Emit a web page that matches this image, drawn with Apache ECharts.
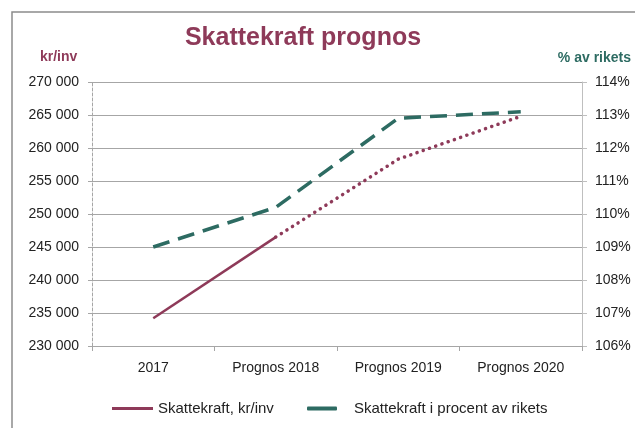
<!DOCTYPE html>
<html><head><meta charset="utf-8">
<script src="https://cdn.jsdelivr.net/npm/echarts@6/dist/echarts.min.js"></script>
<style>html,body{margin:0;padding:0;background:#fff}#c{width:635px;height:428px}</style>
</head><body><div id="c"></div>
<script>
const categories = ['2017', 'Prognos 2018', 'Prognos 2019', 'Prognos 2020'];
const krPerInv = [234200, 246500, 258300, 264800];
const pctOfNation = [109.0, 110.2, 112.9, 113.1];
const lastActualIndex = 1;
const leftTicks = { min: 230000, max: 270000, interval: 5000 };
const rightTicks = { min: 106, max: 114, interval: 1 };

const maroon = '#8E3A59', teal = '#2D6B62';
const FONT = '"Liberation Sans", sans-serif';
const actual = krPerInv.map((v, i) => i <= lastActualIndex ? v : null);
const forecast = krPerInv.map((v, i) => i >= lastActualIndex ? v : null);
const fmtK = v => String(v).replace(/\B(?=(\d{3})+(?!\d))/g, ' ');

const chart = echarts.init(document.getElementById('c'));
chart.setOption({
  animation: false,
  title: { text: 'Skattekraft prognos', left: 303, top: 26, textAlign: 'center', padding: 0,
    textStyle: { color: maroon, fontSize: 25, fontWeight: 'bold', fontFamily: FONT } },
  graphic: [
    { type: 'rect', shape: { x: 12, y: 12, width: 700, height: 500 },
      style: { fill: 'none', stroke: '#8c8c8c', lineWidth: 1.5 }, silent: true },
    { type: 'text', left: 40, top: 50, style: { text: 'kr/inv', fill: maroon, fontSize: 14, fontWeight: 'bold', fontFamily: FONT } },
    { type: 'text', right: 4, top: 51, style: { text: '% av rikets', fill: teal, fontSize: 14, fontWeight: 'bold', fontFamily: FONT } }
  ],
  legend: [
    { data: ['Skattekraft, kr/inv'], left: 112, top: 401, padding: 0, icon: 'rect', itemWidth: 41, itemHeight: 3, itemGap: 0,
      textStyle: { fontSize: 15, fontFamily: FONT, color: '#222', padding: [0, 0, 0, 0] } },
    { data: ['Skattekraft i procent av rikets'], left: 307, top: 401, padding: 0, icon: 'roundRect', itemWidth: 30, itemHeight: 4,
      textStyle: { fontSize: 15, fontFamily: FONT, color: '#222', padding: [0, 0, 0, 12] } }
  ],
  grid: { left: 92, right: 53, top: 82, bottom: 82 },
  xAxis: { type: 'category', data: categories, boundaryGap: true,
    axisLine: { lineStyle: { color: '#a6a6a6', width: 1 } },
    axisTick: { show: true, length: 5, lineStyle: { color: '#a6a6a6' } },
    axisLabel: { color: '#222', fontSize: 14, fontFamily: FONT, margin: 15 } },
  yAxis: [
    { type: 'value', min: leftTicks.min, max: leftTicks.max, interval: leftTicks.interval,
      axisLine: { show: true, lineStyle: { color: '#a6a6a6', type: [3, 2] } },
      axisTick: { show: true, length: 4, lineStyle: { color: '#a6a6a6' } },
      splitLine: { show: true, lineStyle: { color: '#a6a6a6', width: 1 } },
      axisLabel: { color: '#222', fontSize: 14, fontFamily: FONT, margin: 13, formatter: fmtK } },
    { type: 'value', min: rightTicks.min, max: rightTicks.max, interval: rightTicks.interval,
      axisLine: { show: true, lineStyle: { color: '#bfbfbf' } },
      axisTick: { show: true, length: 5, lineStyle: { color: '#bfbfbf' } },
      splitLine: { show: false },
      axisLabel: { color: '#222', fontSize: 14, fontFamily: FONT, margin: 13, formatter: v => v + '%' } }
  ],
  series: [
    { name: 'Skattekraft, kr/inv', type: 'line', data: actual, yAxisIndex: 0, symbol: 'none',
      lineStyle: { color: maroon, width: 2.5 }, itemStyle: { color: maroon } },
    { name: 'Skattekraft prognos kr/inv', type: 'line', data: forecast, yAxisIndex: 0, symbol: 'none',
      lineStyle: { color: maroon, width: 3.5, type: [0.1, 6.5], cap: 'round' }, itemStyle: { color: maroon } },
    { name: 'Skattekraft i procent av rikets', type: 'line', data: pctOfNation, yAxisIndex: 1, symbol: 'none',
      lineStyle: { color: teal, width: 3.5, type: [17, 9], cap: 'butt' }, itemStyle: { color: teal } }
  ]
});
</script></body></html>
